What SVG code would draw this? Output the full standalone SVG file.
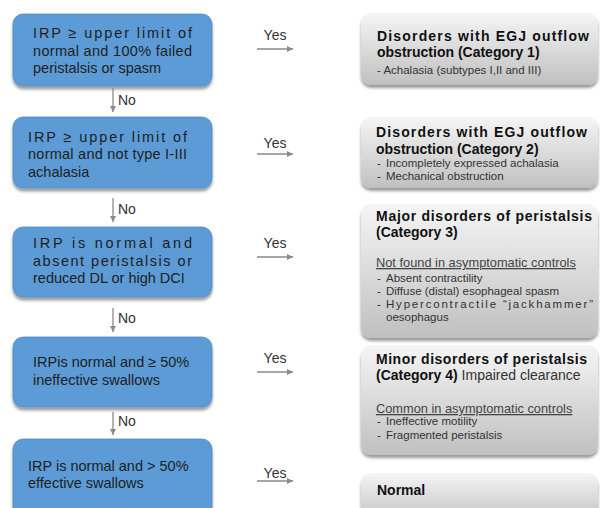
<svg xmlns="http://www.w3.org/2000/svg" width="600" height="508" viewBox="0 0 600 508">
<style>
.q{fill:#5b9bd5;stroke:#4f8cc8;stroke-width:0.8;filter:url(#sh)}
.r{fill:url(#g);filter:url(#sh)}
.qt{font-family:"Liberation Sans",Arial,sans-serif;font-size:14.5px;fill:#1e1e1e}
.tt{font-family:"Liberation Sans",Arial,sans-serif;font-size:14px;font-weight:bold;fill:#111}
.st{font-family:"Liberation Sans",Arial,sans-serif;font-size:11.5px;fill:#333}
.ut{font-family:"Liberation Sans",Arial,sans-serif;font-size:12.8px;fill:#444;text-decoration:underline}
.lb{font-family:"Liberation Sans",Arial,sans-serif;font-size:14px;fill:#333}
.c{stroke:#8a8a8a;stroke-width:1.3;fill:none;marker-end:url(#ah)}
</style>
<defs>
<linearGradient id="g" x1="0" y1="0" x2="0" y2="1">
<stop offset="0" stop-color="#f5f5f5"/>
<stop offset="1" stop-color="#c0c0c0"/>
</linearGradient>
<filter id="sh" x="-10%" y="-10%" width="120%" height="130%">
<feGaussianBlur in="SourceAlpha" stdDeviation="1.6"/>
<feOffset dx="0" dy="2.5" result="b"/>
<feComponentTransfer><feFuncA type="linear" slope="0.4"/></feComponentTransfer>
<feMerge><feMergeNode/><feMergeNode in="SourceGraphic"/></feMerge>
</filter>
<marker id="ah" markerWidth="8" markerHeight="8" refX="6" refY="3" orient="auto" markerUnits="userSpaceOnUse">
<path d="M0,0 L6,3 L0,6 Z" fill="#8a8a8a"/>
</marker>
</defs>
<rect width="600" height="508" fill="#fff"/>

<g id="q1">
<rect class="q" x="13" y="14" width="199" height="72" rx="10"/>
<text class="qt" x="33" y="38" textLength="159" lengthAdjust="spacing">IRP ≥ upper limit of</text>
<text class="qt" x="33" y="56" textLength="159" lengthAdjust="spacing">normal and 100% failed</text>
<text class="qt" x="33" y="73">peristalsis or spasm</text>
</g>
<g id="q2">
<rect class="q" x="13" y="117" width="199" height="71" rx="10"/>
<text class="qt" x="28" y="142" textLength="159" lengthAdjust="spacing">IRP ≥ upper limit of</text>
<text class="qt" x="28" y="159" textLength="159" lengthAdjust="spacing">normal and not type I-III</text>
<text class="qt" x="28" y="177">achalasia</text>
</g>
<g id="q3">
<rect class="q" x="13" y="227" width="199" height="70" rx="10"/>
<text class="qt" x="33" y="248" textLength="159" lengthAdjust="spacing">IRP is normal and</text>
<text class="qt" x="33" y="266" textLength="159" lengthAdjust="spacing">absent peristalsis or</text>
<text class="qt" x="33" y="283">reduced DL or high DCI</text>
</g>
<g id="q4">
<rect class="q" x="13" y="337" width="199" height="70" rx="10"/>
<text class="qt" x="33" y="367">IRPis normal and ≥ 50%</text>
<text class="qt" x="33" y="385">ineffective swallows</text>
</g>
<g id="q5">
<rect class="q" x="13" y="439" width="199" height="85" rx="10"/>
<text class="qt" x="28" y="471">IRP is normal and &gt; 50%</text>
<text class="qt" x="28" y="488">effective swallows</text>
</g>

<g id="r1">
<rect class="r" x="361" y="13" width="237" height="72" rx="10"/>
<text class="tt" x="377" y="41" textLength="212" lengthAdjust="spacing">Disorders with EGJ outflow</text>
<text class="tt" x="377" y="57">obstruction (Category 1)</text>
<text class="st" x="377" y="74">- Achalasia (subtypes I,II and III)</text>
</g>
<g id="r2">
<rect class="r" x="361" y="117" width="237" height="71" rx="10"/>
<text class="tt" x="376" y="137" textLength="211" lengthAdjust="spacing">Disorders with EGJ outflow</text>
<text class="tt" x="376" y="154">obstruction (Category 2)</text>
<text class="st" x="377" y="167">-</text><text class="st" x="386" y="167">Incompletely expressed achalasia</text>
<text class="st" x="377" y="180">-</text><text class="st" x="386" y="180">Mechanical obstruction</text>
</g>
<g id="r3">
<rect class="r" x="361" y="204" width="237" height="134" rx="10"/>
<text class="tt" x="376" y="221" textLength="216" lengthAdjust="spacing">Major disorders of peristalsis</text>
<text class="tt" x="376" y="237">(Category 3)</text>
<text class="ut" x="376" y="267">Not found in asymptomatic controls</text>
<text class="st" x="377" y="282">-</text><text class="st" x="386" y="282">Absent contractility</text>
<text class="st" x="377" y="295">-</text><text class="st" x="386" y="295">Diffuse (distal) esophageal spasm</text>
<text class="st" x="377" y="308">-</text><text class="st" x="386" y="308" textLength="207" lengthAdjust="spacing">Hypercontractile “jackhammer”</text>
<text class="st" x="386" y="321">oesophagus</text>
</g>
<g id="r4">
<rect class="r" x="361" y="345" width="237" height="110" rx="10"/>
<text class="tt" x="376" y="364" textLength="211" lengthAdjust="spacing">Minor disorders of peristalsis</text>
<text class="tt" x="376" y="380">(Category 4)<tspan font-weight="normal" fill="#333"> Impaired clearance</tspan></text>
<text class="ut" x="376" y="413">Common in asymptomatic controls</text>
<text class="st" x="377" y="425">-</text><text class="st" x="386" y="425">Ineffective motility</text>
<text class="st" x="377" y="439">-</text><text class="st" x="386" y="439">Fragmented peristalsis</text>
</g>
<g id="r5">
<rect class="r" x="361" y="473" width="237" height="50" rx="10"/>
<text class="tt" x="377" y="495">Normal</text>
</g>

<g id="connectors">
<line class="c" x1="113" y1="88" x2="113" y2="112"/>
<line class="c" x1="113" y1="198" x2="113" y2="222"/>
<line class="c" x1="113" y1="308" x2="113" y2="332"/>
<line class="c" x1="113" y1="412" x2="113" y2="435"/>
<text class="lb" x="118" y="105">No</text>
<text class="lb" x="118" y="214">No</text>
<text class="lb" x="118" y="323">No</text>
<text class="lb" x="118" y="426">No</text>
<line class="c" x1="257" y1="49" x2="293" y2="49"/>
<line class="c" x1="257" y1="154" x2="293" y2="154"/>
<line class="c" x1="257" y1="257" x2="293" y2="257"/>
<line class="c" x1="257" y1="372" x2="293" y2="372"/>
<line class="c" x1="257" y1="481" x2="293" y2="481"/>
<text class="lb" x="275" y="40" text-anchor="middle">Yes</text>
<text class="lb" x="275" y="148" text-anchor="middle">Yes</text>
<text class="lb" x="275" y="248" text-anchor="middle">Yes</text>
<text class="lb" x="275" y="363" text-anchor="middle">Yes</text>
<text class="lb" x="275" y="478" text-anchor="middle">Yes</text>
</g>
</svg>
